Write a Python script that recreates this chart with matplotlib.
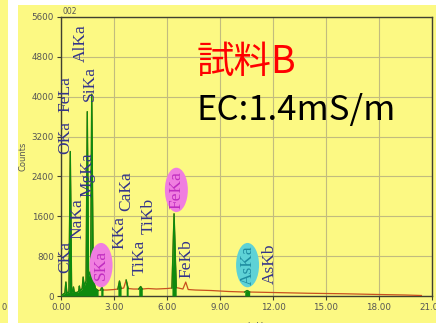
import matplotlib
matplotlib.use("Agg")
import matplotlib.pyplot as plt
from matplotlib.patches import Rectangle, Ellipse
import numpy as np

# ---------------- data ----------------
energy = [0.00, 0.10, 0.22, 0.277, 0.33, 0.45, 0.525, 0.60, 0.66, 0.705, 0.75,
          0.90, 1.00, 1.04, 1.08, 1.20, 1.254, 1.31, 1.42, 1.487, 1.56, 1.68,
          1.74, 1.82, 1.95, 2.10, 2.25, 2.31, 2.38, 2.60, 3.00, 3.22, 3.31,
          3.40, 3.55, 3.69, 3.80, 4.10, 4.40, 4.51, 4.60, 4.93, 5.40, 6.00,
          6.28, 6.40, 6.52, 6.90, 7.06, 7.20, 7.60, 8.50, 9.50, 10.40, 10.54,
          10.68, 12.0, 14.0, 16.0, 18.0, 19.5, 20.4]
counts = [0, 30, 60, 280, 60, 80, 2900, 90, 80, 180, 70,
          70, 90, 200, 100, 150, 380, 200, 300, 3700, 400, 500,
          4050, 350, 150, 110, 120, 180, 120, 120, 130, 140, 300,
          150, 160, 320, 150, 140, 140, 190, 140, 150, 140, 150,
          160, 1650, 170, 140, 280, 130, 120, 110, 90, 80, 110,
          80, 70, 55, 45, 30, 20, 10]

roi_start = [0.00, 2.25, 3.20, 3.58, 4.40, 6.25, 10.40]
roi_end = [2.20, 2.38, 3.42, 3.80, 4.62, 6.55, 10.70]

labels = ["CKa", "OKa", "FeLa", "AlKa", "SiKa", "NaKa", "MgKa", "KKa", "CaKa",
          "TiKa", "TiKb", "FeKb", "AsKb"]
label_x = [0.23, 0.23, 0.28, 1.10, 1.63, 0.91, 1.48, 3.30, 3.69,
           4.48, 4.94, 7.09, 11.80]
label_y = [460, 2850, 3690, 4700, 3910, 1140, 1990, 940, 1700,
           420, 1240, 360, 240]

hl_labels = ["SKa", "FeKa", "AsKa"]
hl_x = [2.27, 6.53, 10.56]
hl_y = [620, 2130, 620]

yticks = [0, 800, 1600, 2400, 3200, 4000, 4800, 5600]
xticks = [0, 3, 6, 9, 12, 15, 18, 21]
xticklabels = ["0.00", "3.00", "6.00", "9.00", "12.00", "15.00", "18.00", "21.00"]

# ---------------- style ----------------
YELLOW = "#FCF983"
GRID = "#C2BC7E"
GREEN = "#0E8A0E"
BROWN = "#C8501E"
LABEL_C = "#34348A"
TICK_C = "#555555"

W, H = 436, 323
fig = plt.figure(figsize=(W / 100, H / 100), dpi=100)
fig.patch.set_facecolor("white")
fig.add_artist(Rectangle((18 / W, 0), (W - 18) / W, (H - 5) / H,
                         transform=fig.transFigure, facecolor=YELLOW,
                         edgecolor="none", zorder=-10))
fig.add_artist(Rectangle((0, 0), 8 / W, 1, transform=fig.transFigure,
                         facecolor=YELLOW, edgecolor="none", zorder=-10))
fig.text(4 / W, 1 - 308 / H, "0", fontsize=6, color=TICK_C, ha="center", va="center")

ax = fig.add_axes([61 / W, 1 - 296 / H, (432 - 61) / W, (296 - 17) / H])
ax.set_facecolor(YELLOW)
ax.set_xlim(0, 21)
ax.set_ylim(0, 5600)

e = np.array(energy)
c = np.array(counts)

ax.plot(e, c, color=BROWN, lw=0.9, zorder=3)
for s, t in zip(roi_start, roi_end):
    m = (e >= s) & (e <= t)
    ax.fill_between(e[m], 0, c[m], color=GREEN, lw=0, zorder=4)
    ax.plot(e[m], c[m], color=GREEN, lw=1.0, zorder=4)

ax.set_yticks(yticks)
ax.set_yticklabels([str(v) for v in yticks])
ax.set_xticks(xticks)
ax.set_xticklabels(xticklabels)
ax.tick_params(axis="both", direction="out", length=3, width=0.8,
               labelsize=6.3, labelcolor=TICK_C, color="#404030", pad=2)
ax.grid(True, color=GRID, lw=0.8)
ax.set_axisbelow(True)
for sp in ax.spines.values():
    sp.set_color("#404030")
    sp.set_linewidth(1.0)

ax.set_ylabel("Counts", fontsize=6, color=TICK_C)
ax.yaxis.set_label_coords((27 - 61) / 371, 0.5)
ax.set_xlabel("keV", fontsize=6, color=TICK_C)
ax.xaxis.set_label_coords((255 - 61) / 371, -(322 - 296) / 279)

fig.text(70 / W, 1 - 12 / H, "002", fontsize=5.5, color=TICK_C, ha="center", va="center")

for lab, x, y in zip(labels, label_x, label_y):
    ax.text(x, y, lab, rotation=90, ha="center", va="bottom",
            fontsize=12.5, family="Liberation Serif", color=LABEL_C, zorder=6)

hl_face = ["#F07EE0", "#F07EE0", "#5ED2D6"]
hl_text = ["#C02CC0", "#C02CC0", "#1E8CA0"]
for lab, x, y, fc, tc in zip(hl_labels, hl_x, hl_y, hl_face, hl_text):
    ax.add_patch(Ellipse((x, y), 1.3, 890, facecolor=fc, edgecolor="none", zorder=5))
    ax.text(x, y, lab, rotation=90, ha="center", va="center",
            fontsize=12.5, family="Liberation Serif", color=tc, zorder=6)

fig.text(197 / W, 1 - 62 / H, "試料B", fontsize=27, color="#FF0000",
         family=["Noto Sans CJK JP", "DejaVu Sans"], ha="left", va="center")
fig.text(196 / W, 1 - 111 / H, "EC:1.4mS/m", fontsize=25, color="black",
         family=["Noto Sans CJK JP", "DejaVu Sans"], ha="left", va="center")

fig.savefig("out.png", dpi=100)
